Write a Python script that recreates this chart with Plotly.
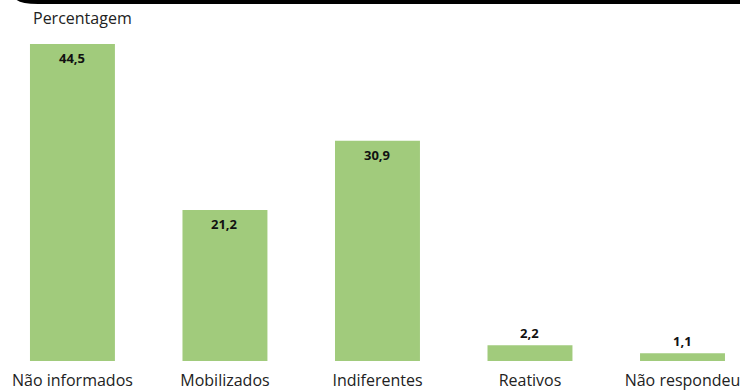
import plotly.graph_objects as go

# Response categories and their share (%)
categories = ["Não informados", "Mobilizados", "Indiferentes", "Reativos", "Não respondeu"]
values = [44.5, 21.2, 30.9, 2.2, 1.1]
value_labels = ["44,5", "21,2", "30,9", "2,2", "1,1"]

W, H = 740, 390
M_T, M_B = 0, 29
PLOT_H = H - M_T - M_B
BAR_COLOR = "#a1cb7c"
FONT = "'Open Sans', sans-serif"


def px_to_paper(x, y):
    """Convert page pixel position to paper coordinates."""
    return x / W, (PLOT_H - (y - M_T)) / PLOT_H


fig = go.Figure(
    go.Bar(
        x=categories,
        y=values,
        marker=dict(color=BAR_COLOR, line=dict(width=0)),
        width=0.557,
        hoverinfo="skip",
    )
)

# Value labels: inside the top of tall bars, above short bars
annotations = []
for cat, v, lab in zip(categories, values, value_labels):
    inside = v > 10
    annotations.append(
        dict(
            x=cat, y=v, xref="x", yref="y",
            text=f"<b>{lab}</b>",
            showarrow=False,
            yanchor="middle",
            yshift=-14 if inside else 12,
            font=dict(family=FONT, size=13, color="#111111"),
        )
    )

# Axis title at top-left
tx, ty = px_to_paper(31, 18)
annotations.append(
    dict(
        x=tx, y=ty, xref="paper", yref="paper",
        xanchor="left", yanchor="middle",
        text="Percentagem", showarrow=False,
        font=dict(family=FONT, size=16, color="#222222"),
    )
)

# Dark header band with a rounded lower-left corner
p = [px_to_paper(*pt) for pt in [(15, -2), (18, 4), (38, 4), (745, 4), (745, -2)]]
band_path = (
    f"M {p[0][0]},{p[0][1]} Q {p[1][0]},{p[1][1]} {p[2][0]},{p[2][1]} "
    f"L {p[3][0]},{p[3][1]} L {p[4][0]},{p[4][1]} Z"
)

fig.update_layout(
    width=W,
    height=H,
    margin=dict(l=0, r=0, t=M_T, b=M_B, pad=0),
    paper_bgcolor="white",
    plot_bgcolor="white",
    showlegend=False,
    annotations=annotations,
    shapes=[
        dict(
            type="path", xref="paper", yref="paper", path=band_path,
            fillcolor="black", line=dict(width=0), layer="above",
        )
    ],
    xaxis=dict(
        type="category",
        range=[-0.475, 4.377],
        showgrid=False,
        zeroline=False,
        showline=False,
        ticks="",
        ticklabelstandoff=8,
        tickfont=dict(family=FONT, size=16, color="#222222"),
        fixedrange=True,
    ),
    yaxis=dict(
        range=[0, 50.67],
        showgrid=False,
        zeroline=False,
        showline=False,
        showticklabels=False,
        ticks="",
        fixedrange=True,
    ),
)

fig.write_html("out.html", config={"displayModeBar": False})
